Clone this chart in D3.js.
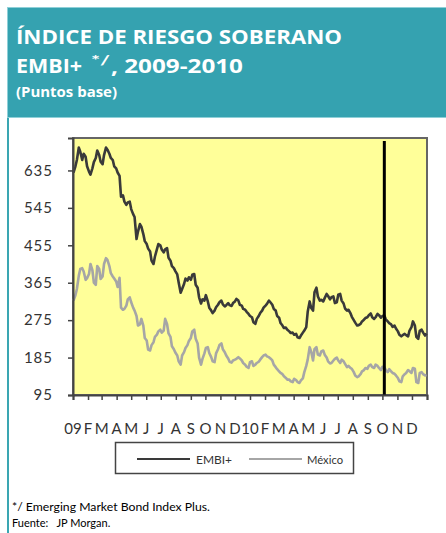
<!DOCTYPE html>
<html><head><meta charset="utf-8">
<script src="https://cdn.jsdelivr.net/npm/d3@7"></script>
<style>body{margin:0;background:#fff;} svg{display:block;font-family:Lato,"Open Sans",sans-serif;}</style>
</head><body>
<svg id="c" width="446" height="533"></svg>
<script>
// weekly (Friday) observations
const dates = [
"2009-01-02","2009-01-09","2009-01-16","2009-01-23","2009-01-30","2009-02-06","2009-02-13","2009-02-20","2009-02-27","2009-03-06","2009-03-13","2009-03-20","2009-03-27","2009-04-03","2009-04-10","2009-04-17","2009-04-24","2009-05-01","2009-05-08","2009-05-15","2009-05-22","2009-05-29","2009-06-05","2009-06-12","2009-06-19","2009-06-26","2009-07-03","2009-07-10","2009-07-17","2009-07-24","2009-07-31","2009-08-07","2009-08-14","2009-08-21","2009-08-28","2009-09-04","2009-09-11","2009-09-18","2009-09-25","2009-10-02","2009-10-09","2009-10-16","2009-10-23","2009-10-30","2009-11-06","2009-11-13","2009-11-20","2009-11-27","2009-12-04","2009-12-11","2009-12-18","2009-12-25",
"2010-01-01","2010-01-08","2010-01-15","2010-01-22","2010-01-29","2010-02-05","2010-02-12","2010-02-19","2010-02-26","2010-03-05","2010-03-12","2010-03-19","2010-03-26","2010-04-02","2010-04-09","2010-04-16","2010-04-23","2010-04-30","2010-05-07","2010-05-14","2010-05-21","2010-05-28","2010-06-04","2010-06-11","2010-06-18","2010-06-25","2010-07-02","2010-07-09","2010-07-16","2010-07-23","2010-07-30","2010-08-06","2010-08-13","2010-08-20","2010-08-27","2010-09-03","2010-09-10","2010-09-17","2010-09-24","2010-10-01","2010-10-08","2010-10-15","2010-10-22","2010-10-29","2010-11-05","2010-11-12","2010-11-19","2010-11-26","2010-12-03","2010-12-10","2010-12-17","2010-12-24","2010-12-31"];

// EMBI+ : Friday values
const embi = [630,660,680,675,645,625,655,683,656,672,685,665,645,630,572,560,558,542,523,488,500,465,447,418,428,458,445,445,425,405,393,365,350,375,378,384,360,330,325,335,305,292,306,318,313,311,311,316,326,312,302,295,
285,270,278,292,305,314,318,302,285,268,256,252,244,240,234,238,250,295,305,342,332,324,328,333,330,316,336,322,303,300,283,269,263,272,280,287,282,282,287,285,277,268,259,255,240,239,239,250,272,235,249,245,243];
// EMBI+ : mid-week (Tuesday) values
const embiMid = [null,645,690,660,668,632,640,665,672,650,
690,675,660,640,622,575,552,560,530,470,
506,482,458,440,410,445,455,438,448,418,
400,385,341,362,370,372,386,353,315,322,
320,298,298,312,322,308,316,309,320,322,
310,300,290,282,266,285,298,310,322,312,
298,281,262,257,248,245,242,232,245,258,
320,298,353,322,320,338,325,332,318,338,
315,298,292,275,262,266,276,282,291,278,
290,281,286,272,265,262,248,236,242,236,
258,262,230,252,238];

// México : Friday values
const mexico = [322,350,398,392,376,410,365,405,374,410,420,388,375,355,305,302,325,318,298,262,278,232,204,215,235,248,245,278,243,212,197,176,190,208,225,248,230,185,182,208,196,176,195,215,205,190,175,178,182,183,172,163,
174,165,172,180,190,188,183,168,157,148,140,132,128,134,126,130,150,180,200,205,192,200,192,176,172,182,178,180,170,165,158,142,140,152,160,165,162,168,160,163,155,157,148,142,128,140,148,152,160,126,148,145,143];
// México : mid-week (Tuesday) values
const mexicoMid = [null,335,382,400,372,386,395,360,398,380,
424,405,380,368,377,300,310,330,305,285,
265,262,226,202,222,240,252,250,265,235,
205,190,168,198,215,232,252,219,168,195,
210,186,174,205,219,198,183,173,180,186,
178,168,160,176,168,175,186,192,186,178,
162,152,145,136,132,126,131,124,135,165,
210,178,210,190,202,185,171,178,185,172,
176,162,160,150,138,145,155,158,168,160,
165,155,162,150,152,146,136,126,145,155,
148,158,124,150,142];

const monthLabels = ["09","F","M","A","M","J","J","A","S","O","N","D","10","F","M","A","M","J","J","A","S","O","N","D"];
const yTicks = [95,185,275,365,455,545,635];
const seriesNames = ["EMBI+","México"];
const markerDate = "2010-10-05";

const parse = d3.timeParse("%Y-%m-%d");
const svg = d3.select("#c");

function series(fri, mid) {
  const out = [];
  dates.forEach((ds, i) => {
    const d = parse(ds);
    if (mid[i] != null) out.push({date: d3.timeDay.offset(d, -3), v: mid[i]});
    out.push({date: d, v: fri[i]});
  });
  return out;
}

// header
svg.append("line").attr("x1",8).attr("x2",8).attr("y1",7).attr("y2",533).attr("stroke","#3aa6b2").attr("stroke-width",2);
svg.append("rect").attr("x",7.5).attr("y",7.5).attr("width",445).attr("height",110).attr("fill","#35a2b0").attr("stroke","#8fd0d8").attr("stroke-width",1);
const tw = (t,x,y,size,len,fam)=>svg.append("text").attr("x",x).attr("y",y).attr("fill","#fff").attr("font-weight",700)
  .attr("font-family",fam||"'Open Sans', Lato, sans-serif").attr("font-size",size).attr("textLength",len).attr("lengthAdjust","spacingAndGlyphs").text(t);
tw("ÍNDICE DE RIESGO  SOBERANO",16,44,20,326);
tw("EMBI+",16,73,20,66);
tw("*/",91,65,13,19,"Lato, sans-serif");
tw(", 2009-2010",111,73,20,132);
tw("(Puntos base)",16,97,14,101);

// plot
const x0 = 73, x1 = 427, yTop = 138, yBot = 395;
const x = d3.scaleTime().domain([parse("2009-01-01"), parse("2011-01-01")]).range([x0, x1]);
const y = d3.scaleLinear().domain([95, 713]).range([yBot, yTop]);

svg.append("rect").attr("x",x0).attr("y",yTop).attr("width",x1-x0).attr("height",yBot-yTop).attr("fill","#ffff99").attr("stroke","#666").attr("stroke-width",2);

const line = d3.line().x(d=>x(d.date)).y(d=>y(d.v));
svg.append("path").datum(series(mexico, mexicoMid)).attr("d",line).attr("fill","none").attr("stroke","#a6a6a6").attr("stroke-width",2.6).attr("stroke-linejoin","round");
svg.append("path").datum(series(embi, embiMid)).attr("d",line).attr("fill","none").attr("stroke","#3a3a3a").attr("stroke-width",2.6).attr("stroke-linejoin","round");

svg.append("line").attr("x1",x(parse(markerDate))).attr("x2",x(parse(markerDate))).attr("y1",141).attr("y2",yBot).attr("stroke","#000").attr("stroke-width",3);

// y axis
const yAxis = svg.append("g").attr("transform",`translate(${x0},0)`)
  .call(d3.axisLeft(y).tickValues(yTicks).tickSize(5).tickPadding(15).tickFormat(d3.format("d")));
yAxis.select(".domain").attr("stroke","#444").attr("stroke-width",2);
yAxis.selectAll(".tick line").attr("stroke","#444").attr("stroke-width",1.5);
yAxis.selectAll(".tick text").attr("font-size",15).attr("fill","#333").attr("letter-spacing",1).attr("font-family","Lato, sans-serif");

// x axis
const months = d3.timeMonth.range(parse("2009-01-01"), parse("2011-01-02"));
const xAxis = svg.append("g").attr("transform",`translate(0,${yBot})`)
  .call(d3.axisBottom(x).tickValues(months).tickSize(5).tickFormat(""));
xAxis.select(".domain").attr("stroke","#444").attr("stroke-width",2);
xAxis.selectAll(".tick line").attr("stroke","#444").attr("stroke-width",1.5);
svg.append("g").selectAll("text").data(monthLabels).join("text")
  .attr("x",(d,i)=>x(months[i])).attr("y",434).attr("text-anchor","middle")
  .attr("font-size",15).attr("fill","#333").text(d=>d);

// legend
svg.append("rect").attr("x",115.5).attr("y",442.5).attr("width",238).attr("height",31).attr("fill","#fff").attr("stroke","#444").attr("stroke-width",1.5);
const lg = [{c:"#3a3a3a",x:137,tx:196,len:36},{c:"#a6a6a6",x:249,tx:307,len:36}];
lg.forEach((l,i)=>{
  svg.append("line").attr("x1",l.x).attr("x2",l.x+53).attr("y1",459).attr("y2",459).attr("stroke",l.c).attr("stroke-width",2);
  svg.append("text").attr("x",l.tx).attr("y",463.5).attr("font-size",12).attr("fill","#333").attr("textLength",l.len).attr("lengthAdjust","spacingAndGlyphs").text(seriesNames[i]);
});

// footer
svg.append("text").attr("x",12).attr("y",511).attr("font-size",11).attr("fill","#000").attr("textLength",198).attr("lengthAdjust","spacingAndGlyphs").text("*/ Emerging Market Bond Index Plus.");
svg.append("text").attr("x",12).attr("y",527).attr("font-size",11).attr("fill","#000").attr("xml:space","preserve").text("Fuente:   JP Morgan.");
</script>
</body></html>
